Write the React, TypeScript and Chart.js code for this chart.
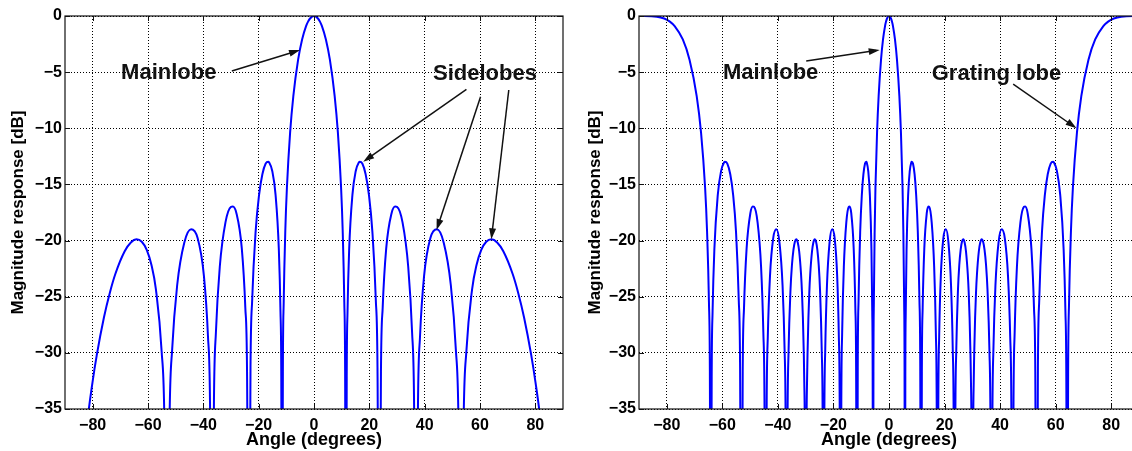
import React, { useEffect, useRef } from 'react';
import { Chart, registerables } from 'chart.js';
Chart.register(...registerables);

// ---------- data ----------
// Left panel (uniform array, half-wavelength spacing)
const leftAngles = [
  -90, -81.89, -80.06, -78.52, -75.93, -73.74, -71.81, -68.43, -66.2, -64.16, -62.25, -60.46, -58.77, -57.14, -55.08, -54.1,
  -53.13, -52.19, -51.26, -49.46, -46.89, -44.43, -42.07, -39.79, -38.32, -37.59,
  -36.87, -36.16, -35.45, -34.06, -32.0, -30.0, -29.34, -28.04, -26.1, -24.83, -24.2,
  -23.58, -22.95, -22.33, -21.1, -19.88, -18.66, -17.46, -16.56, -16.26, -15.07, -13.89, -12.71, -12.12, -11.83,
  -11.54, -11.25, -10.95, -10.37, -9.79, -8.63, -7.47, -5.74, -4.3, -2.87, -2.15, -1.43,
  0, 1.43, 2.15, 2.87, 4.3, 5.74, 7.47, 8.63, 9.79, 10.37, 10.95, 11.25, 11.54,
  11.83, 12.12, 12.71, 13.89, 15.07, 16.26, 16.56, 17.46, 18.66, 19.88, 21.1, 22.33, 22.95, 23.58,
  24.2, 24.83, 26.1, 28.04, 29.34, 30.0, 32.0, 34.06, 35.45, 36.16, 36.87,
  37.59, 38.32, 39.79, 42.07, 44.43, 46.89, 49.46, 51.26, 52.19, 53.13,
  54.1, 55.08, 57.14, 58.77, 60.46, 62.25, 64.16, 66.2, 68.43, 71.81, 73.74, 75.93, 78.52, 80.06, 81.89, 90,
];
const leftDb = [
  -60, -36.1, -32.63, -30.2, -26.85, -24.6, -22.98, -20.95, -20.17, -19.89, -20.1, -20.82, -22.15, -24.34, -29.85, -35.72,
  -60, -35.6, -29.67, -23.98, -20.2, -19.0, -19.78, -23.14, -28.55, -34.37,
  -60, -34.17, -28.16, -22.35, -18.38, -16.99, -16.96, -17.56, -20.7, -25.95, -31.68,
  -60, -31.31, -25.2, -19.2, -15.98, -14.09, -13.14, -12.97, -13.02, -13.82, -15.93, -20.8, -26.32, -32.11,
  -60, -31.69, -25.48, -19.11, -15.29, -10.37, -7.14, -3.89, -2.09, -0.9, -0.5, -0.22,
  0, -0.22, -0.5, -0.9, -2.09, -3.89, -7.14, -10.37, -15.29, -19.11, -25.48, -31.69, -60,
  -32.11, -26.32, -20.8, -15.93, -13.82, -13.02, -12.97, -13.14, -14.09, -15.98, -19.2, -25.2, -31.31, -60,
  -31.68, -25.95, -20.7, -17.56, -16.96, -16.99, -18.38, -22.35, -28.16, -34.17, -60,
  -34.37, -28.55, -23.14, -19.78, -19.0, -20.2, -23.98, -29.67, -35.6, -60,
  -35.72, -29.85, -24.34, -22.15, -20.82, -20.1, -19.89, -20.17, -20.95, -22.98, -24.6, -26.85, -30.2, -32.63, -36.1, -60,
];

// Right panel (one-wavelength spacing, grating lobes)
const rightAngles = [
  -90, -83.59, -80.93, -78.89, -77.16, -74.23, -71.81, -69.23, -67.67, -66.2, -65.51, -64.82, -64.49,
  -64.16, -63.83, -63.51, -62.87, -61.64, -60.46, -59.32, -59.04, -58.21, -57.14, -56.09, -55.08, -54.1, -53.61,
  -53.13, -52.66, -52.19, -51.26, -49.91, -49.02, -48.59, -47.31, -46.05, -45.24, -44.83,
  -44.43, -44.03, -43.63, -42.84, -41.68, -40.54, -39.42, -38.32, -37.59, -37.23,
  -36.87, -36.51, -36.16, -35.45, -34.93, -34.4, -33.88, -33.37, -32.85, -32.34, -31.67, -31.33, -31.0, -30.66, -30.5, -30.33,
  -30.0, -29.67, -29.51, -29.34, -29.01, -28.69, -28.36, -27.71, -27.23, -26.74, -26.26, -25.79, -25.31, -24.84, -24.21, -23.89,
  -23.58, -23.27, -22.95, -22.33, -21.41, -20.49, -19.57, -18.66, -18.06, -17.76,
  -17.46, -17.16, -16.86, -16.26, -15.37, -14.48, -14.18, -13.59, -12.71, -12.12, -11.83,
  -11.54, -11.25, -10.95, -10.37, -9.79, -9.21, -8.63, -8.19, -8.05, -7.47, -6.89, -6.32, -6.03, -5.88,
  -5.74, -5.6, -5.45, -5.16, -4.88, -4.3, -3.73, -2.87, -2.15, -1.43, -1.07, -0.72,
  0, 0.72, 1.07, 1.43, 2.15, 2.87, 3.73, 4.3, 4.88, 5.16, 5.45, 5.6, 5.74,
  5.88, 6.03, 6.32, 6.89, 7.47, 8.05, 8.19, 8.63, 9.21, 9.79, 10.37, 10.95, 11.25, 11.54,
  11.83, 12.12, 12.71, 13.59, 14.18, 14.48, 15.37, 16.26, 16.86, 17.16, 17.46,
  17.76, 18.06, 18.66, 19.57, 20.49, 21.41, 22.33, 22.95, 23.27, 23.58,
  23.89, 24.21, 24.84, 25.31, 25.79, 26.26, 26.74, 27.23, 27.71, 28.36, 28.69, 29.01, 29.34, 29.51, 29.67, 30.0,
  30.33, 30.5, 30.66, 31.0, 31.33, 31.67, 32.34, 32.85, 33.37, 33.88, 34.4, 34.93, 35.45, 36.16, 36.51, 36.87,
  37.23, 37.59, 38.32, 39.42, 40.54, 41.68, 42.84, 43.63, 44.03, 44.43,
  44.83, 45.24, 46.05, 47.31, 48.59, 49.02, 49.91, 51.26, 52.19, 52.66, 53.13,
  53.61, 54.1, 55.08, 56.09, 57.14, 58.21, 59.04, 59.32, 60.46, 61.64, 62.87, 63.51, 63.83, 64.16,
  64.49, 64.82, 65.51, 66.2, 67.67, 69.23, 71.81, 74.23, 77.16, 78.89, 80.93, 83.59, 90,
];
const rightDb = [
  0, -0.06, -0.22, -0.5, -0.9, -2.09, -3.89, -7.14, -10.37, -15.29, -19.11, -25.48, -31.69,
  -60, -32.11, -26.32, -20.8, -15.93, -13.82, -13.02, -12.97, -13.14, -14.09, -15.98, -19.2, -25.2, -31.31,
  -60, -31.68, -25.95, -20.7, -17.56, -16.96, -16.99, -18.38, -22.35, -28.16, -34.17,
  -60, -34.37, -28.55, -23.14, -19.78, -19.0, -20.2, -23.98, -29.67, -35.6,
  -60, -35.72, -29.85, -24.34, -22.15, -20.82, -20.1, -19.89, -20.17, -20.95, -22.98, -24.6, -26.85, -30.2, -32.63, -36.1,
  -60, -36.1, -32.63, -30.2, -26.85, -24.6, -22.98, -20.95, -20.17, -19.89, -20.1, -20.82, -22.15, -24.34, -29.85, -35.72,
  -60, -35.6, -29.67, -23.98, -20.2, -19.0, -19.78, -23.14, -28.55, -34.37,
  -60, -34.17, -28.16, -22.35, -18.38, -16.99, -16.96, -17.56, -20.7, -25.95, -31.68,
  -60, -31.31, -25.2, -19.2, -15.98, -14.09, -13.14, -12.97, -13.02, -13.82, -15.93, -20.8, -26.32, -32.11,
  -60, -31.69, -25.48, -19.11, -15.29, -10.37, -7.14, -3.89, -2.09, -0.9, -0.5, -0.22,
  0, -0.22, -0.5, -0.9, -2.09, -3.89, -7.14, -10.37, -15.29, -19.11, -25.48, -31.69, -60,
  -32.11, -26.32, -20.8, -15.93, -13.82, -13.02, -12.97, -13.14, -14.09, -15.98, -19.2, -25.2, -31.31, -60,
  -31.68, -25.95, -20.7, -17.56, -16.96, -16.99, -18.38, -22.35, -28.16, -34.17, -60,
  -34.37, -28.55, -23.14, -19.78, -19.0, -20.2, -23.98, -29.67, -35.6, -60,
  -35.72, -29.85, -24.34, -22.15, -20.82, -20.1, -19.89, -20.17, -20.95, -22.98, -24.6, -26.85, -30.2, -32.63, -36.1, -60,
  -36.1, -32.63, -30.2, -26.85, -24.6, -22.98, -20.95, -20.17, -19.89, -20.1, -20.82, -22.15, -24.34, -29.85, -35.72, -60,
  -35.6, -29.67, -23.98, -20.2, -19.0, -19.78, -23.14, -28.55, -34.37, -60,
  -34.17, -28.16, -22.35, -18.38, -16.99, -16.96, -17.56, -20.7, -25.95, -31.68, -60,
  -31.31, -25.2, -19.2, -15.98, -14.09, -13.14, -12.97, -13.02, -13.82, -15.93, -20.8, -26.32, -32.11, -60,
  -31.69, -25.48, -19.11, -15.29, -10.37, -7.14, -3.89, -2.09, -0.9, -0.5, -0.22, -0.06, 0,
];

const xTickValues = [-80, -60, -40, -20, 0, 20, 40, 60, 80];
const yTickValues = [-35, -30, -25, -20, -15, -10, -5, 0];
const xTitle = 'Angle (degrees)';
const yTitle = 'Magnitude response [dB]';

// annotations (data coordinates)
const leftLabels = [
  { text: 'Mainlobe', x: -52.5, y: -5.1 },
  { text: 'Sidelobes', x: 61.8, y: -5.15 },
];
const leftArrows = [
  [-29.7, -4.9, -5.05, -3.03],
  [55.1, -6.53, 17.8, -12.97],
  [60.2, -7.19, 44.3, -19.06],
  [70.4, -6.59, 64.1, -19.88],
];
const rightLabels = [
  { text: 'Mainlobe', x: -42.6, y: -5.1 },
  { text: 'Grating lobe', x: 38.7, y: -5.15 },
];
const rightArrows = [
  [-29.8, -4.0, -3.35, -3.03],
  [44.7, -6.06, 67.5, -10.0],
];

const FONT = "'Liberation Sans', Arial, Helvetica, sans-serif";

function fmt(v: number) {
  return v < 0 ? '\u2212' + Math.abs(v) : String(v);
}

function makePlugin(labels: { text: string; x: number; y: number }[], arrows: number[][]) {
  return {
    id: 'frameAnno',
    afterDraw(chart: any) {
      const { ctx, chartArea: a, scales } = chart;
      const xs = scales.x;
      const ys = scales.y;
      ctx.save();
      // frame
      ctx.strokeStyle = '#111';
      ctx.lineWidth = 1.2;
      ctx.strokeRect(a.left, a.top, a.right - a.left, a.bottom - a.top);
      // inward tick marks
      ctx.lineWidth = 1;
      ctx.beginPath();
      for (const v of xTickValues) {
        const px = Math.round(xs.getPixelForValue(v)) + 0.5;
        ctx.moveTo(px, a.bottom);
        ctx.lineTo(px, a.bottom - 5);
        ctx.moveTo(px, a.top);
        ctx.lineTo(px, a.top + 5);
      }
      for (const v of yTickValues) {
        const py = Math.round(ys.getPixelForValue(v)) + 0.5;
        ctx.moveTo(a.left, py);
        ctx.lineTo(a.left + 5, py);
        ctx.moveTo(a.right, py);
        ctx.lineTo(a.right - 5, py);
      }
      ctx.stroke();
      // arrows
      ctx.strokeStyle = '#111';
      ctx.fillStyle = '#111';
      ctx.lineWidth = 1.5;
      for (const [x1, y1, x2, y2] of arrows) {
        const p1x = xs.getPixelForValue(x1);
        const p1y = ys.getPixelForValue(y1);
        const p2x = xs.getPixelForValue(x2);
        const p2y = ys.getPixelForValue(y2);
        const ang = Math.atan2(p2y - p1y, p2x - p1x);
        const L = 11;
        const W = 3.5;
        const c = Math.cos(ang);
        const s = Math.sin(ang);
        ctx.beginPath();
        ctx.moveTo(p1x, p1y);
        ctx.lineTo(p2x - c * 4, p2y - s * 4);
        ctx.stroke();
        ctx.beginPath();
        ctx.moveTo(p2x, p2y);
        ctx.lineTo(p2x - L * c + W * s, p2y - L * s - W * c);
        ctx.lineTo(p2x - L * c - W * s, p2y - L * s + W * c);
        ctx.closePath();
        ctx.fill();
      }
      // labels
      ctx.font = `bold 22px ${FONT}`;
      ctx.textAlign = 'center';
      ctx.textBaseline = 'middle';
      ctx.fillStyle = '#111';
      for (const l of labels) {
        ctx.fillText(l.text, xs.getPixelForValue(l.x), ys.getPixelForValue(l.y));
      }
      ctx.restore();
    },
  };
}

function Panel(props: {
  angles: number[];
  db: number[];
  labels: { text: string; x: number; y: number }[];
  arrows: number[][];
  left: number;
  yWidth: number;
  padRight: number;
}) {
  const ref = useRef<HTMLCanvasElement | null>(null);
  useEffect(() => {
    if (!ref.current) return;
    const data = props.angles.map((a, i) => ({ x: a, y: props.db[i] }));
    const chart = new Chart(ref.current, {
      type: 'line',
      data: {
        datasets: [
          {
            data,
            borderColor: 'rgb(0,0,255)',
            borderWidth: 2,
            pointRadius: 0,
            fill: false,
            cubicInterpolationMode: 'monotone',
            clip: 0,
          } as any,
        ],
      },
      options: {
        responsive: false,
        devicePixelRatio: 1,
        animation: false,
        layout: { padding: { left: 0, right: props.padRight, top: 16, bottom: 0 } },
        plugins: { legend: { display: false }, tooltip: { enabled: false }, title: { display: false } },
        events: [],
        scales: {
          x: {
            type: 'linear',
            min: -90,
            max: 90,
            afterBuildTicks: (s: any) => {
              s.ticks = xTickValues.map((v) => ({ value: v }));
            },
            afterFit: (s: any) => {
              s.height = 42;
            },
            ticks: {
              padding: 7,
              color: '#000',
              font: { family: FONT, size: 16, weight: 'bold' },
              callback: (v: any) => fmt(Number(v)),
              maxRotation: 0,
              autoSkip: false,
            },
            grid: { color: '#000', lineWidth: 1, drawTicks: false },
            border: { display: false, dash: [1, 2] },
            title: {
              display: true,
              text: xTitle,
              color: '#000',
              font: { family: FONT, size: 18, weight: 'bold' },
              padding: { top: 0, bottom: 0 },
            },
          },
          y: {
            type: 'linear',
            min: -35,
            max: 0,
            afterBuildTicks: (s: any) => {
              s.ticks = yTickValues.map((v) => ({ value: v }));
            },
            afterFit: (s: any) => {
              s.width = props.yWidth;
            },
            ticks: {
              padding: 3,
              color: '#000',
              font: { family: FONT, size: 16, weight: 'bold' },
              callback: (v: any) => fmt(Number(v)),
              autoSkip: false,
            },
            grid: { color: '#000', lineWidth: 1, drawTicks: false },
            border: { display: false, dash: [1, 2] },
            title: {
              display: true,
              text: yTitle,
              color: '#000',
              font: { family: FONT, size: 17, weight: 'bold' },
              padding: { top: 8, bottom: 0 },
            },
          },
        },
      } as any,
      plugins: [makePlugin(props.labels, props.arrows)],
    });
    return () => chart.destroy();
  }, []);
  return (
    <canvas
      ref={ref}
      width={580}
      height={451}
      style={{ position: 'absolute', left: props.left, top: 0, width: 580, height: 451 }}
    />
  );
}

export default function App() {
  return (
    <div
      style={{
        position: 'fixed',
        left: 0,
        top: 0,
        width: 1132,
        height: 451,
        overflow: 'hidden',
        background: '#fff',
      }}
    >
      <Panel angles={leftAngles} db={leftDb} labels={leftLabels} arrows={leftArrows} left={0} yWidth={65} padRight={17} />
      <Panel angles={rightAngles} db={rightDb} labels={rightLabels} arrows={rightArrows} left={577} yWidth={62} padRight={18} />
    </div>
  );
}
